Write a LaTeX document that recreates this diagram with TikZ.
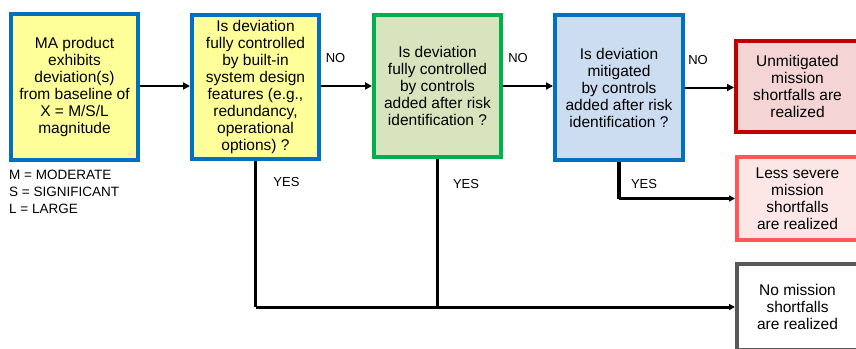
\documentclass[tikz,border=0pt]{standalone}
\usepackage{fontspec}
\setmainfont{Liberation Sans}
\usetikzlibrary{arrows.meta}

\definecolor{boxblue}{HTML}{0070C0}
\definecolor{paleyellow}{HTML}{FFFF99}
\definecolor{boxgreen}{HTML}{00B050}
\definecolor{palegreen}{HTML}{D7E4BD}
\definecolor{paleblue}{HTML}{CCDDF1}
\definecolor{darkred}{HTML}{C00000}
\definecolor{palepink}{HTML}{F4D4D4}
\definecolor{lightred}{HTML}{FF5757}
\definecolor{palerose}{HTML}{FDE6E6}
\definecolor{boxgray}{HTML}{595959}

\begin{document}
\begin{tikzpicture}[x=1pt,y=-1pt,
  box/.style={draw, line width=4pt, align=center, inner sep=0pt,
    font=\fontsize{15.5}{17}\selectfont},
  tag/.style={inner sep=0pt, font=\fontsize{13}{15}\selectfont},
  legend/.style={inner sep=0pt, anchor=west, font=\fontsize{13.5}{16}\selectfont},
  flow/.style={line width=2pt, -{Triangle[length=7pt,width=7pt]}},
  yesflow/.style={line width=3pt, -{Triangle[length=6pt,width=6pt]}},
  branch/.style={line width=3.2pt},
]
\useasboundingbox (0,0) rectangle (856,348);
\clip (0,0) rectangle (856,348);
\fill[white] (0,0) rectangle (856,348);

% decision chain
\node[box, draw=boxblue, fill=paleyellow, minimum width=127pt, minimum height=146pt]
  (start) at (74.5,87) {MA product\\exhibits\\deviation(s)\\from baseline of\\X = M/S/L\\magnitude};
\node[box, draw=boxblue, fill=paleyellow, minimum width=127pt, minimum height=144pt]
  (builtin) at (255.5,87) {Is deviation\\fully controlled\\by built-in\\system design\\features (e.g.,\\redundancy,\\operational\\options) ?};
\node[box, draw=boxgreen, fill=palegreen, minimum width=127pt, minimum height=142pt]
  (added) at (437.5,86) {Is deviation\\fully controlled\\by controls\\added after risk\\identification ?};
\node[box, draw=boxblue, fill=paleblue, minimum width=128pt, minimum height=145pt]
  (mitig) at (619,87.5) {Is deviation\\mitigated\\by controls\\added after risk\\identification ?};

% outcomes
\node[box, draw=darkred, fill=palepink, minimum width=123pt, minimum height=91pt]
  (unmit) at (797.5,86.5) {Unmitigated\\mission\\shortfalls are\\realized};
\node[box, draw=lightred, fill=palerose, minimum width=121pt, minimum height=83pt]
  (less) at (797.5,198.5) {Less severe\\mission\\shortfalls\\are realized};
\node[box, draw=boxgray, fill=white, minimum width=121pt, minimum height=86pt]
  (none) at (797.5,307) {No mission\\shortfalls\\are realized};

% legend
\node[legend] (lgm) at (9,175) {M = MODERATE};
\node[legend] (lgs) at (9,192) {S = SIGNIFICANT};
\node[legend] (lgl) at (9,209) {L = LARGE};

% NO path
\coordinate (row) at (0,86);
\draw[flow] (start.east |- row) -- (builtin.west |- row);
\draw[flow] (builtin.east |- row) -- (added.west |- row);
\draw[flow] (added.east |- row) -- (mitig.west |- row);
\draw[flow] (mitig.east) -- (mitig.east -| unmit.west);
\node[tag] (no1) at (335.5,58) {NO};
\node[tag] (no2) at (518,58) {NO};
\node[tag] (no3) at (698,60) {NO};

% YES paths
\draw[branch] (builtin.south) -- (builtin.south |- none.west);
\draw[branch] (added.south) -- (added.south |- none.west);
\draw[yesflow] (builtin.south |- none.west) -- (none.west);
\draw[branch] (mitig.south) -- (mitig.south |- less.west);
\draw[yesflow] (mitig.south |- less.west) -- (less.west);
\node[tag] (yes1) at (286.5,182) {YES};
\node[tag] (yes2) at (466,184) {YES};
\node[tag] (yes3) at (644,184) {YES};
\end{tikzpicture}
\end{document}
